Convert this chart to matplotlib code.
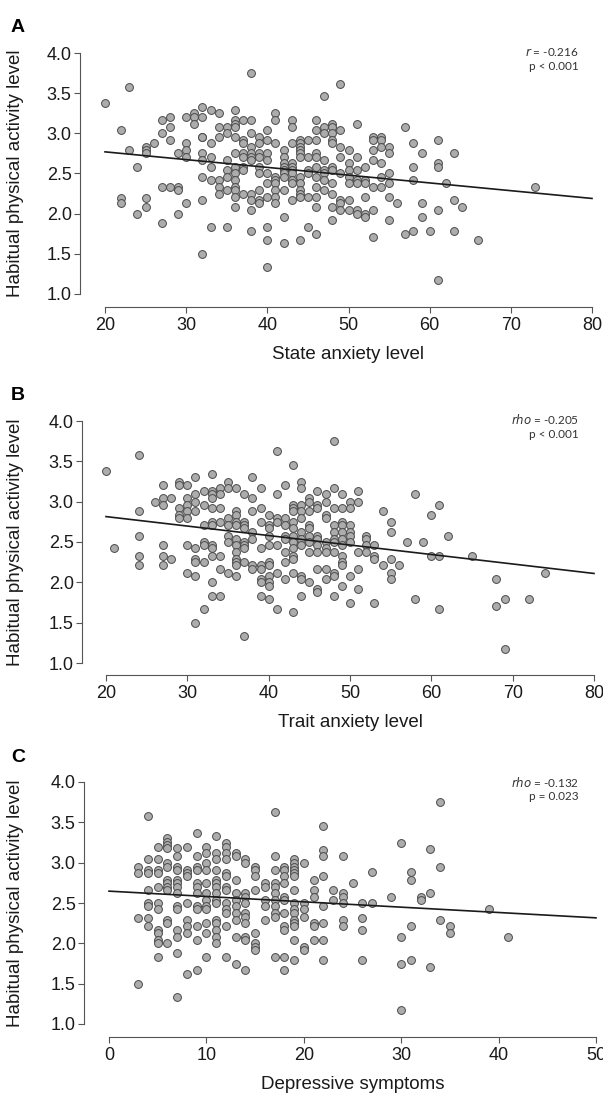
import numpy as np
import matplotlib
matplotlib.use("Agg")
import matplotlib.pyplot as plt

plt.rcParams['font.family'] = ['Liberation Sans', 'DejaVu Sans']

# activity level readings, grouped by x value (x: list of y)
state_pts = {
    20: [3.38], 22: [3.04, 2.20, 2.13], 23: [3.58, 2.79], 24: [2.58, 2.00],
    25: [2.83, 2.79, 2.75, 2.20, 2.08], 26: [2.88], 27: [3.17, 3.00, 2.33, 1.88],
    28: [3.20, 3.08, 2.92, 2.33], 29: [2.75, 2.33, 2.29, 2.00],
    30: [3.20, 2.88, 2.79, 2.71, 2.13], 31: [3.25, 3.20, 3.12],
    32: [3.33, 3.20, 2.96, 2.96, 2.75, 2.67, 2.46, 2.17, 1.50],
    33: [3.29, 2.88, 2.71, 2.58, 2.42, 1.83], 34: [3.25, 3.08, 2.96, 2.42, 2.33, 2.25],
    35: [3.08, 3.00, 2.67, 2.54, 2.46, 2.29, 1.83],
    36: [3.29, 3.17, 3.12, 3.08, 2.96, 2.75, 2.58, 2.50, 2.42, 2.33, 2.29, 2.21, 2.08],
    37: [3.17, 2.92, 2.88, 2.75, 2.71, 2.58, 2.54, 2.25],
    38: [3.75, 3.17, 3.00, 2.83, 2.75, 2.71, 2.67, 2.25, 2.17, 2.04, 1.79],
    39: [2.96, 2.88, 2.75, 2.71, 2.58, 2.50, 2.29, 2.17, 2.13],
    40: [3.04, 2.92, 2.75, 2.67, 2.50, 2.38, 2.21, 1.83, 1.67, 1.33],
    41: [3.25, 3.17, 2.88, 2.46, 2.42, 2.38, 2.29, 2.21, 2.13],
    42: [2.79, 2.71, 2.63, 2.58, 2.54, 2.50, 2.46, 2.29, 1.96, 1.63],
    43: [3.17, 3.08, 2.88, 2.63, 2.58, 2.54, 2.50, 2.42, 2.38, 2.17],
    44: [2.92, 2.88, 2.83, 2.79, 2.75, 2.71, 2.46, 2.38, 2.29, 2.25, 2.21, 1.67],
    45: [2.92, 2.71, 2.54, 2.50, 2.21, 1.83],
    46: [3.17, 3.04, 2.92, 2.75, 2.71, 2.58, 2.46, 2.33, 2.21, 2.08, 1.75],
    47: [3.46, 3.08, 3.00, 2.67, 2.54, 2.50, 2.42, 2.29],
    48: [3.12, 3.08, 3.00, 2.92, 2.88, 2.58, 2.54, 2.38, 2.25, 2.08, 1.92],
    49: [3.62, 3.04, 2.83, 2.71, 2.50, 2.17, 2.13, 2.04],
    50: [2.79, 2.63, 2.54, 2.46, 2.38, 2.17, 2.04],
    51: [3.12, 2.71, 2.54, 2.42, 2.38, 2.04, 2.00],
    52: [2.58, 2.42, 2.38, 2.21, 2.00, 1.96],
    53: [2.96, 2.92, 2.79, 2.67, 2.33, 2.04, 1.71],
    54: [2.96, 2.92, 2.83, 2.63, 2.46, 2.33],
    55: [2.83, 2.75, 2.50, 2.38, 2.21, 1.92], 56: [2.13], 57: [3.08, 1.75],
    58: [2.88, 2.58, 2.42, 1.79], 59: [2.75, 2.13, 1.96], 60: [1.79],
    61: [2.92, 2.63, 2.58, 2.04, 1.17], 62: [2.38], 63: [2.75, 2.17, 1.79],
    64: [2.08], 66: [1.67], 73: [2.33],
}

trait_pts = {
    20: [3.38], 21: [2.42], 24: [3.58, 2.88, 2.58, 2.33, 2.21], 26: [3.00],
    27: [3.21, 3.05, 2.96, 2.46, 2.33, 2.21], 28: [3.05, 2.29],
    29: [3.25, 3.21, 2.92, 2.84, 2.80],
    30: [3.21, 3.05, 2.96, 2.88, 2.80, 2.46, 2.12],
    31: [3.30, 3.09, 3.00, 2.88, 2.42, 2.29, 2.25, 2.08, 1.50],
    32: [3.13, 2.96, 2.71, 2.50, 2.46, 2.25, 1.67],
    33: [3.34, 3.13, 3.09, 3.05, 2.92, 2.75, 2.71, 2.46, 2.42, 2.33, 2.00, 1.83],
    34: [3.17, 3.09, 2.92, 2.75, 2.33, 2.16, 1.83],
    35: [3.25, 3.17, 2.80, 2.71, 2.58, 2.50, 2.12],
    36: [3.17, 2.88, 2.84, 2.75, 2.71, 2.54, 2.46, 2.38, 2.29, 2.25, 2.21, 2.08],
    37: [3.09, 2.75, 2.71, 2.67, 2.50, 2.46, 2.42, 2.25, 1.34],
    38: [3.30, 3.05, 2.88, 2.63, 2.54, 2.21, 2.16],
    39: [3.17, 2.92, 2.75, 2.42, 2.21, 2.16, 2.04, 2.00, 1.83],
    40: [2.84, 2.71, 2.67, 2.58, 2.46, 2.25, 2.21, 2.08, 2.00, 1.96, 1.79],
    41: [3.63, 3.09, 2.80, 2.75, 2.46, 2.12, 1.67],
    42: [3.21, 2.80, 2.71, 2.58, 2.54, 2.38, 2.25, 2.04],
    43: [3.46, 2.96, 2.92, 2.88, 2.75, 2.67, 2.58, 2.50, 2.42, 2.33, 2.29, 2.12, 1.63],
    44: [3.25, 3.17, 2.96, 2.88, 2.80, 2.63, 2.54, 2.46, 2.08, 2.04, 1.83],
    45: [3.05, 3.00, 2.88, 2.71, 2.67, 2.58, 2.50, 2.38, 2.00],
    46: [3.13, 2.96, 2.92, 2.58, 2.54, 2.46, 2.38, 2.16, 1.92, 1.88],
    47: [3.09, 3.00, 2.84, 2.80, 2.50, 2.42, 2.38, 2.16, 2.04],
    48: [3.75, 3.17, 2.92, 2.71, 2.63, 2.54, 2.50, 2.38, 2.12, 2.08, 1.83],
    49: [3.09, 2.92, 2.75, 2.71, 2.63, 2.54, 2.46, 2.33, 2.25, 2.21, 1.96],
    50: [3.00, 2.92, 2.71, 2.63, 2.58, 2.50, 2.08, 1.75],
    51: [3.13, 3.00, 2.38, 2.16, 1.92], 52: [2.58, 2.54, 2.46, 2.38],
    53: [2.46, 2.33, 2.29, 1.75], 54: [2.88, 2.21],
    55: [2.75, 2.63, 2.29, 2.12, 2.04], 56: [2.21], 57: [2.50], 58: [3.09, 1.79],
    59: [2.50], 60: [2.84, 2.33], 61: [2.96, 2.33, 1.67], 62: [2.58], 65: [2.33],
    68: [2.04, 1.71], 69: [1.79, 1.17], 72: [1.79], 74: [2.12],
}

depress_pts = {
    3: [2.95, 2.87, 2.32, 1.50],
    4: [3.58, 3.04, 2.91, 2.87, 2.66, 2.50, 2.46, 2.32, 2.21],
    5: [3.20, 3.04, 2.91, 2.87, 2.70, 2.50, 2.42, 2.17, 2.13, 2.04, 2.00, 1.83],
    6: [3.30, 3.26, 3.22, 3.18, 2.99, 2.95, 2.79, 2.75, 2.70, 2.66, 2.29, 2.25, 2.00],
    7: [3.18, 3.08, 2.95, 2.91, 2.79, 2.75, 2.70, 2.62, 2.46, 2.42, 2.17, 2.08, 1.88, 1.33],
    8: [3.20, 2.91, 2.87, 2.83, 2.50, 2.29, 2.21, 2.13, 1.62],
    9: [3.37, 3.08, 2.95, 2.91, 2.75, 2.70, 2.62, 2.46, 2.42, 2.21, 2.04, 1.67],
    10: [3.20, 3.12, 2.99, 2.91, 2.75, 2.62, 2.54, 2.46, 2.42, 2.25, 2.13, 1.83],
    11: [3.33, 3.12, 3.04, 2.91, 2.79, 2.75, 2.70, 2.62, 2.54, 2.50, 2.29, 2.25, 2.17, 2.08, 2.00],
    12: [3.24, 3.20, 3.12, 3.04, 2.87, 2.83, 2.70, 2.66, 2.50, 2.42, 2.37, 2.21, 1.83],
    13: [3.12, 3.08, 2.79, 2.62, 2.54, 2.46, 2.37, 2.29, 2.08, 1.75],
    14: [3.04, 2.99, 2.62, 2.58, 2.50, 2.37, 2.33, 2.25, 2.08, 2.04, 1.67],
    15: [2.95, 2.91, 2.83, 2.66, 2.13, 2.00, 1.96, 1.92],
    16: [2.75, 2.70, 2.54, 2.46, 2.29],
    17: [3.63, 3.08, 2.91, 2.75, 2.70, 2.62, 2.54, 2.46, 2.37, 2.33, 1.83],
    18: [2.95, 2.91, 2.83, 2.75, 2.58, 2.54, 2.37, 2.21, 2.17, 1.83, 1.67],
    19: [3.04, 2.99, 2.95, 2.91, 2.87, 2.83, 2.66, 2.50, 2.42, 2.37, 2.29, 2.25, 2.21, 2.04, 1.79],
    20: [2.99, 2.50, 2.42, 2.33, 1.96, 1.92],
    21: [2.79, 2.66, 2.58, 2.25, 2.21, 2.04],
    22: [3.46, 3.16, 3.08, 2.83, 2.46, 2.25, 2.04, 1.79],
    23: [2.66, 2.54], 24: [3.08, 2.62, 2.58, 2.50, 2.29, 2.21], 25: [2.75],
    26: [2.50, 2.32, 2.17, 1.79], 27: [2.88, 2.50], 29: [2.58],
    30: [3.25, 2.08, 1.75, 1.17], 31: [2.88, 2.79, 2.21, 1.79], 32: [2.58, 2.54],
    33: [3.17, 2.62, 1.71], 34: [3.75, 2.95, 2.29], 35: [2.21, 2.13],
    39: [2.42], 41: [2.08],
}

# fitted lines: (intercept, slope)
fit_state = (2.963, -0.00967)
fit_trait = (3.050, -0.01175)
fit_depress = (2.647, -0.00662)

stats_state = ("r", "-0.216", "p < 0.001")
stats_trait = ("rho", "-0.205", "p < 0.001")
stats_depress = ("rho", "-0.132", "p = 0.023")

W, H = 603, 1093
fig = plt.figure(figsize=(W / 100, H / 100), dpi=100)


def make_panel(letter, pts, fit, stats, xr, xticks, xlabel, px):
    # px: x of xmin, x of xmax, y of 4.0, y of 1.0, y-spine x, x-spine y, label y
    x0, x1, ytop, ybot, spx, spy, ann_y = px
    ax = fig.add_axes([x0 / W, 1 - ybot / H, (x1 - x0) / W, (ybot - ytop) / H])
    xs = np.concatenate([[k] * len(v) for k, v in pts.items()])
    ys = np.concatenate([v for v in pts.values()])
    ax.scatter(xs, ys, s=32, facecolor='#acacac', edgecolor='#4a4a4a',
               linewidth=0.7, zorder=3, clip_on=False)
    lx = np.array(xr, dtype=float)
    ax.plot(lx, fit[0] + fit[1] * lx, color='#1a1a1a', lw=1.2, zorder=4,
            clip_on=False)
    ax.set_xlim(*xr)
    ax.set_ylim(1, 4)
    for s in ['top', 'right']:
        ax.spines[s].set_visible(False)
    ax.spines['left'].set_position(('outward', (x0 - spx) * 0.72))
    ax.spines['bottom'].set_position(('outward', (spy - ybot) * 0.72))
    ax.spines['left'].set_bounds(1, 4)
    ax.spines['bottom'].set_bounds(*xr)
    for s in ['left', 'bottom']:
        ax.spines[s].set_color('#555555')
        ax.spines[s].set_linewidth(0.8)
    ax.set_yticks(np.arange(1, 4.01, 0.5))
    ax.set_yticklabels([f"{v:.1f}" for v in np.arange(1, 4.01, 0.5)])
    ax.set_xticks(xticks)
    ax.tick_params(axis='both', direction='out', length=4, width=0.8,
                   color='#555555', labelsize=13, labelcolor='#1a1a1a')
    ax.tick_params(axis='x', pad=3)
    ax.tick_params(axis='y', pad=2)
    ax.set_xlabel(xlabel, fontsize=13.5, color='#1a1a1a', labelpad=9)
    ax.set_ylabel("Habitual physical activity level", fontsize=13.5,
                  color='#1a1a1a')
    ax.yaxis.set_label_coords((24 - x0) / (x1 - x0), 0.5)
    fig.text(11 / W, 1 - (ytop - 25) / H, letter, fontsize=14,
             fontweight='bold', ha='left', va='center')
    sym, val, ptxt = stats
    fig.text(579 / W, 1 - ann_y / H, f"$\\it{{{sym}}}$ = {val}", fontsize=8.5,
             family='Lato', ha='right', va='center', color='#333333')
    fig.text(579 / W, 1 - (ann_y + 15) / H, ptxt, fontsize=8.5,
             family='Lato', ha='right', va='center', color='#333333')
    return ax


make_panel("A", state_pts, fit_state, stats_state, (20, 80),
           range(20, 81, 10), "State anxiety level",
           (105, 592, 53, 294, 80, 307, 52))
make_panel("B", trait_pts, fit_trait, stats_trait, (20, 80),
           range(20, 81, 10), "Trait anxiety level",
           (106, 594, 421, 663, 82, 675, 419))
make_panel("C", depress_pts, fit_depress, stats_depress, (0, 50),
           range(0, 51, 10), "Depressive symptoms",
           (109, 596, 782, 1024, 84, 1037, 782))

fig.savefig("out.png", dpi=100)
